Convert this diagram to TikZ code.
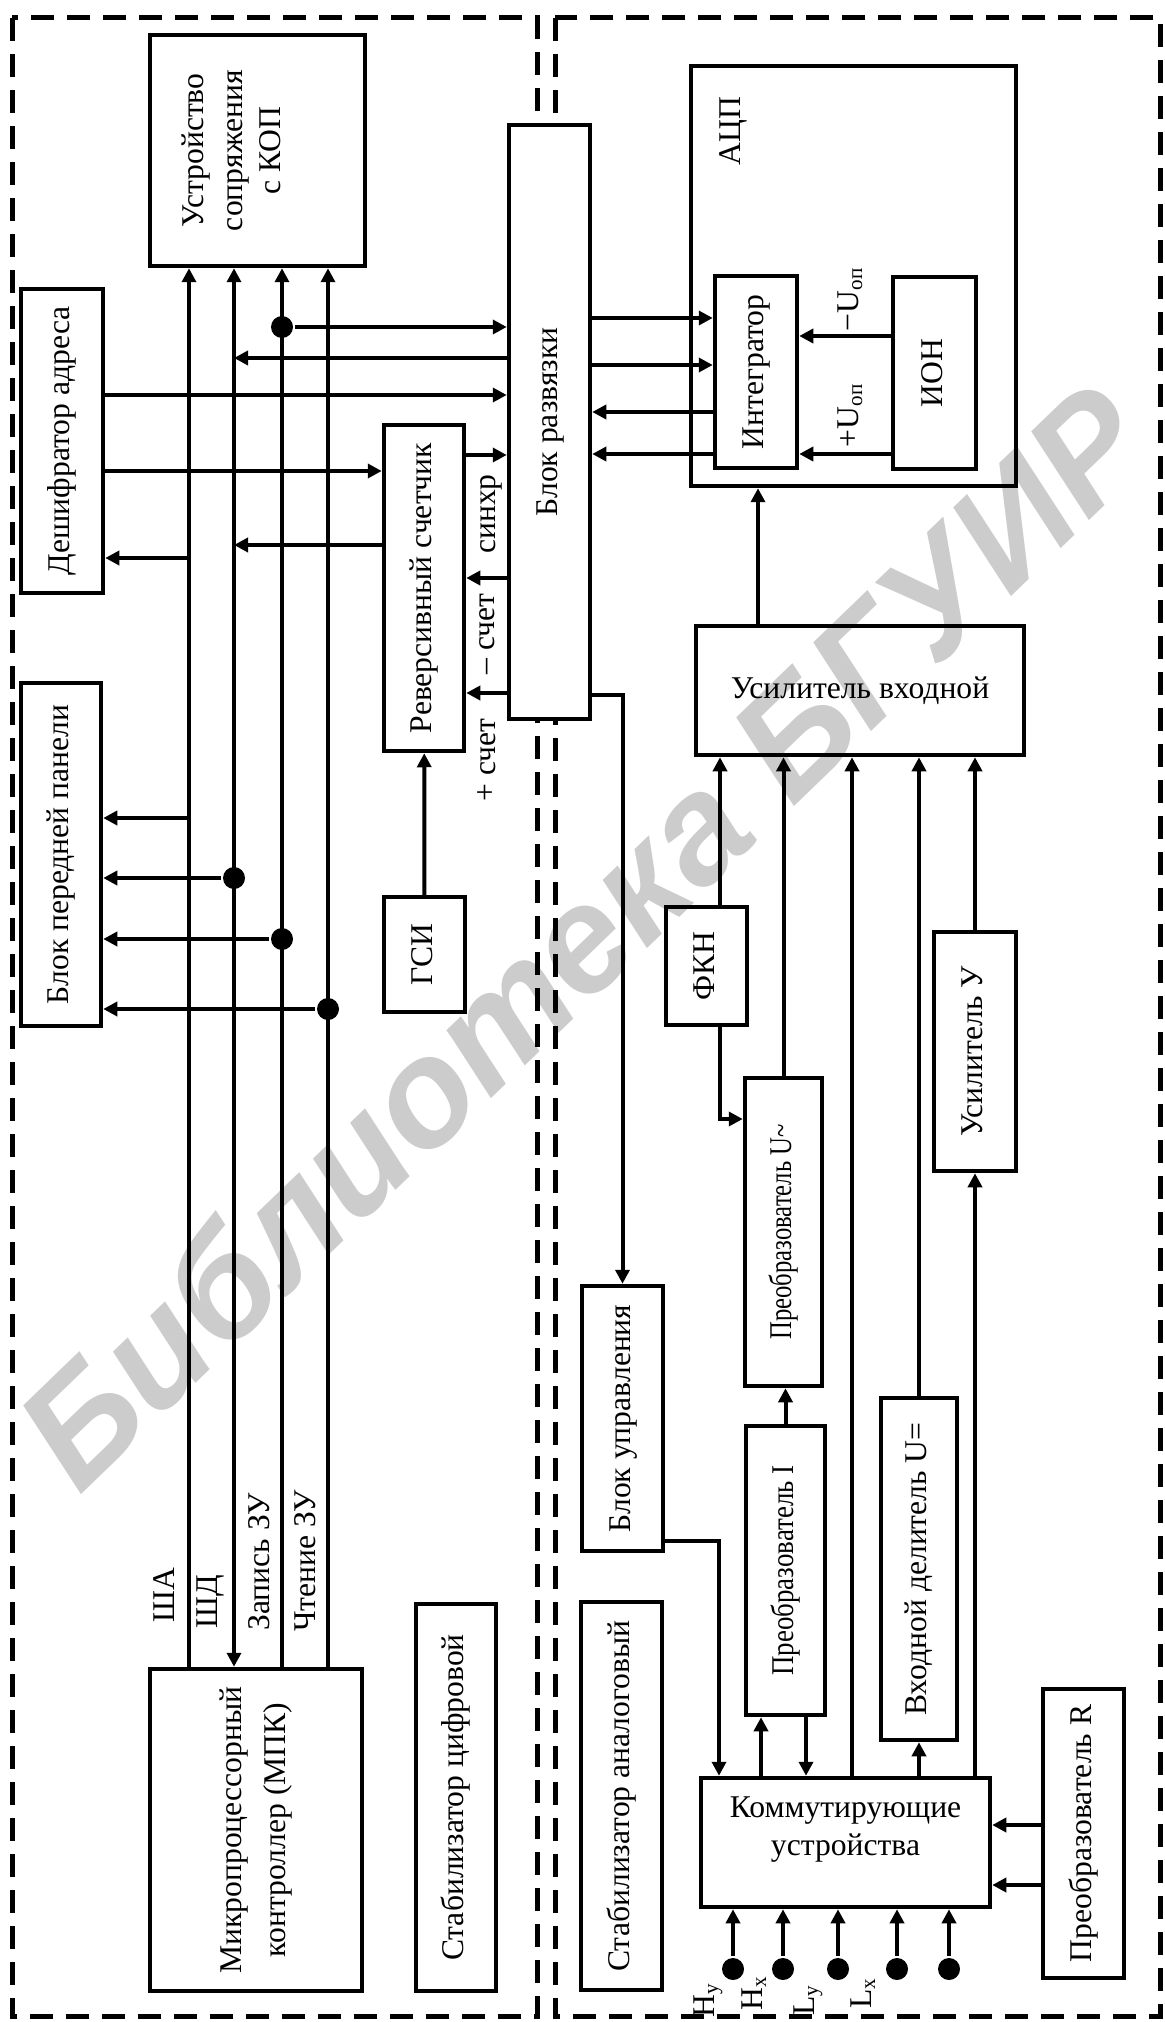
\documentclass[tikz,border=0pt]{standalone}
\usepackage{fontspec}
\setmainfont{Liberation Serif}
\newfontfamily\wmfont{Liberation Sans}
\usepackage{graphicx,xcolor}
\usepackage{tikz}
\usetikzlibrary{arrows.meta,calc,positioning}
\newcommand{\vtxt}[1]{\rotatebox{90}{\begin{tabular}{@{}c@{}}#1\end{tabular}}}

\begin{document}
\begin{tikzpicture}[x=0.1mm, y=-0.1mm, line width=0.4mm, >={Triangle[length=1.4mm,width=1.4mm]}]
	\tikzstyle{blok} = [draw, line width=0.45mm, inner sep=0pt, font=\fontsize{9}{11}\selectfont]
	\tikzstyle{lbl} = [rotate=90, inner sep=0pt, font=\fontsize{9}{11}\selectfont]
	\tikzstyle{tochka} = [circle, fill=black, inner sep=0pt, minimum size=2.2mm]
	\tikzstyle{ramka} = [line width=0.5mm, dash pattern=on 2.3mm off 1.3mm]
\useasboundingbox (0,0) rectangle (1164,2022);

% watermark
\node[rotate=44, text=black!20, font=\wmfont\bfseries\itshape\fontsize{43}{43}\selectfont] (wmk) at (582,935) {Библиотека БГУИР};

\draw[ramka] (12,18) rectangle (537,2016);
\draw[ramka] (555,18) rectangle (1160,2016);

% digital part
\node[blok, minimum width=21.5mm, minimum height=23.1mm, label={[font=\fontsize{9}{11}\selectfont, xshift=-2.3mm]center:\vtxt{Устройство\\сопряжения\\с КОП}}] (ustr) at (257.5,150.5) {};
\node[blok, fill=white, minimum width=8.1mm, minimum height=59.4mm] (blk) at (549.5,422) {\vtxt{Блок развязки}};
\node[blok, minimum width=8.2mm, minimum height=30.4mm] (dsh) at (62,441) {\vtxt{Дешифратор адреса}};
\node[blok, minimum width=8.0mm, minimum height=32.6mm] (rev) at (424,588) {\vtxt{Реверсивный счетчик}};
\node[blok, minimum width=8.0mm, minimum height=34.3mm] (bpp) at (61,854.5) {\vtxt{Блок передней панели}};
\node[blok, minimum width=8.1mm, minimum height=11.5mm] (gsi) at (424.5,954.5) {\vtxt{ГСИ}};
\node[blok, minimum width=21.2mm, minimum height=32.2mm] (mpk) at (256,1830) {\vtxt{Микропроцессорный\\[1.5pt]контроллер (МПК)}};
\node[blok, minimum width=8.0mm, minimum height=38.7mm] (stc) at (456,1797.5) {\vtxt{Стабилизатор цифровой}};

% analog part
\node[blok, minimum width=32.5mm, minimum height=42mm] (adc) at (853.5,276) {};
\node[lbl] (adcl) at (733,131) {АЦП};
\node[blok, minimum width=8.2mm, minimum height=19.2mm] (integ) at (756,372) {\vtxt{Интегратор}};
\node[blok, minimum width=8.3mm, minimum height=19.2mm] (ion) at (934.5,373) {\vtxt{ИОН}};
\node[blok, minimum width=32.8mm, minimum height=12.9mm] (usv) at (860,690.5) {Усилитель входной};
\node[blok, minimum width=8.1mm, minimum height=11.8mm] (fkn) at (706.5,966) {\vtxt{ФКН}};
\node[blok, minimum width=7.7mm, minimum height=30.8mm] (pu) at (783.5,1232) {\vtxt{\scalebox{0.78}[1]{Преобразователь U\textasciitilde}}};
\node[blok, minimum width=8.2mm, minimum height=23.9mm] (usy) at (975,1051.5) {\vtxt{Усилитель У}};
\node[blok, minimum width=8.1mm, minimum height=26.5mm] (bu) at (622.5,1418.5) {\vtxt{Блок управления}};
\node[blok, minimum width=7.9mm, minimum height=28.9mm] (pi) at (785.5,1570.5) {\vtxt{\scalebox{0.85}[1]{Преобразователь I}}};
\node[blok, minimum width=7.6mm, minimum height=34.2mm] (vd) at (919,1569) {\vtxt{Входной делитель U=}};
\node[blok, minimum width=8.1mm, minimum height=38.8mm] (sta) at (621.5,1796) {\vtxt{Стабилизатор аналоговый}};
\node[blok, minimum width=28.9mm, minimum height=12.9mm, label={[font=\fontsize{9}{11}\selectfont, align=center, yshift=1.3mm]center:Коммутирующие\\устройства}] (kom) at (845.5,1842.5) {};
\node[blok, minimum width=8.1mm, minimum height=28.9mm] (pr) at (1083.5,1833.5) {\vtxt{Преобразователь R}};

% buses
\coordinate (sa) at (189,1669);
\coordinate (sd) at (234,1669);
\coordinate (zz) at (282,1669);
\coordinate (cz) at (328,1669);
	\path[draw, ->] (mpk.north -| sa) -- (ustr.south -| sa);
	\path[draw, <->] (mpk.north -| sd) -- (ustr.south -| sd);
	\path[draw, ->] (mpk.north -| zz) -- (ustr.south -| zz);
	\path[draw, ->] (mpk.north -| cz) -- (ustr.south -| cz);
\node[lbl] (lsa) at (164,1595) {ША};
\node[lbl] (lsd) at (211,1602) {ШД};
\node[lbl] (lzz) at (259,1562) {Запись ЗУ};
\node[lbl] (lcz) at (305,1561) {Чтение ЗУ};

\node[tochka] (d1) at (282,327) {};
\node[tochka] (d2) at (234,878) {};
\node[tochka] (d3) at (282,939) {};
\node[tochka] (d4) at (328,1009) {};

	\path[draw, ->] (d1) -- (d1 -| blk.west);
	\path[draw, ->] (blk.west |- 0,358) -- (sd |- 0,358);
	\path[draw, ->] (dsh.east |- 0,395) -- (blk.west |- 0,395);
	\path[draw, ->] (rev.east |- 0,455) -- (blk.west |- 0,455);
	\path[draw, ->] (dsh.east |- 0,471) -- (rev.west |- 0,471);
	\path[draw, ->] (rev.west |- 0,545) -- (sd |- 0,545);
	\path[draw, ->] (sa |- 0,558) -- (dsh.east |- 0,558);
	\path[draw, ->] (blk.west |- 0,578) -- (rev.east |- 0,578);
	\path[draw, ->] (blk.west |- 0,693) -- (rev.east |- 0,693);
	\path[draw, ->] (gsi) -- (rev);
	\path[draw, ->] (sa |- 0,818) -- (bpp.east |- 0,818);
	\path[draw, ->] (d2) -- (d2 -| bpp.east);
	\path[draw, ->] (d3) -- (d3 -| bpp.east);
	\path[draw, ->] (d4) -- (d4 -| bpp.east);
\node[lbl] (sinh) at (491,514) {синхр};
\node[lbl] (mcht) at (487,634) {– счет};
\node[lbl] (pcht) at (487,760) {+ счет};

% ADC and inputs
	\path[draw, ->] (blk.east |- 0,318) -- (integ.west |- 0,318);
	\path[draw, ->] (blk.east |- 0,365) -- (integ.west |- 0,365);
	\path[draw, ->] (integ.west |- 0,412) -- (blk.east |- 0,412);
	\path[draw, ->] (integ.west |- 0,454) -- (blk.east |- 0,454);
	\path[draw, ->] (ion.west |- 0,336) -- (integ.east |- 0,336);
	\path[draw, ->] (ion.west |- 0,454) -- (integ.east |- 0,454);
\node[lbl] (uop1) at (850,299) {−U\textsubscript{оп}};
\node[lbl] (uop2) at (850,415) {+U\textsubscript{оп}};
	\path[draw, ->] (usv.north -| 758,0) -- (adc.south -| 758,0);
	\path[draw, ->] (blk.east |- 0,695) -| (bu.north);
	\path[draw, ->] (fkn.north -| 720,0) -- (usv.south -| 720,0);
	\path[draw, ->] (fkn.south -| 720,0) |- (pu.west |- 0,1119);
	\path[draw, ->] (pu.north) -- (pu.north |- usv.south);
	\path[draw, ->] (kom.north -| 852,0) -- (usv.south -| 852,0);
	\path[draw, ->] (vd.north) -- (vd.north |- usv.south);
	\path[draw, ->] (usy.north) -- (usy.north |- usv.south);
	\path[draw, ->] (kom.north -| usy.south) -- (usy.south);
	\path[draw, ->] (pi.north) -- (pi.north |- pu.south);
	\path[draw, ->] (kom.north -| 761,0) -- (pi.south -| 761,0);
	\path[draw, ->] (pi.south -| 806,0) -- (kom.north -| 806,0);
	\path[draw, ->] (kom.north -| vd.south) -- (vd.south);
	\path[draw, ->] (bu.east |- 0,1541) -| (kom.north -| 719,0);
	\path[draw, ->] (pr.west |- 0,1825) -- (kom.east |- 0,1825);
	\path[draw, ->] (pr.west |- 0,1885) -- (kom.east |- 0,1885);

\node[tochka] (i1) at (733,1969) {};
\node[tochka] (i2) at (783,1969) {};
\node[tochka] (i3) at (838,1969) {};
\node[tochka] (i4) at (897,1969) {};
\node[tochka] (i5) at (949,1969) {};
	\path[draw, ->] (i1) -- (i1 |- kom.south);
	\path[draw, ->] (i2) -- (i2 |- kom.south);
	\path[draw, ->] (i3) -- (i3 |- kom.south);
	\path[draw, ->] (i4) -- (i4 |- kom.south);
	\path[draw, ->] (i5) -- (i5 |- kom.south);
\node[lbl] (hy) at (708,2000) {H\textsubscript{y}};
\node[lbl] (hx) at (754,1993) {H\textsubscript{x}};
\node[lbl] (ly) at (808,2000) {L\textsubscript{y}};
\node[lbl] (lx) at (863,1993) {L\textsubscript{x}};
\end{tikzpicture}
\end{document}
